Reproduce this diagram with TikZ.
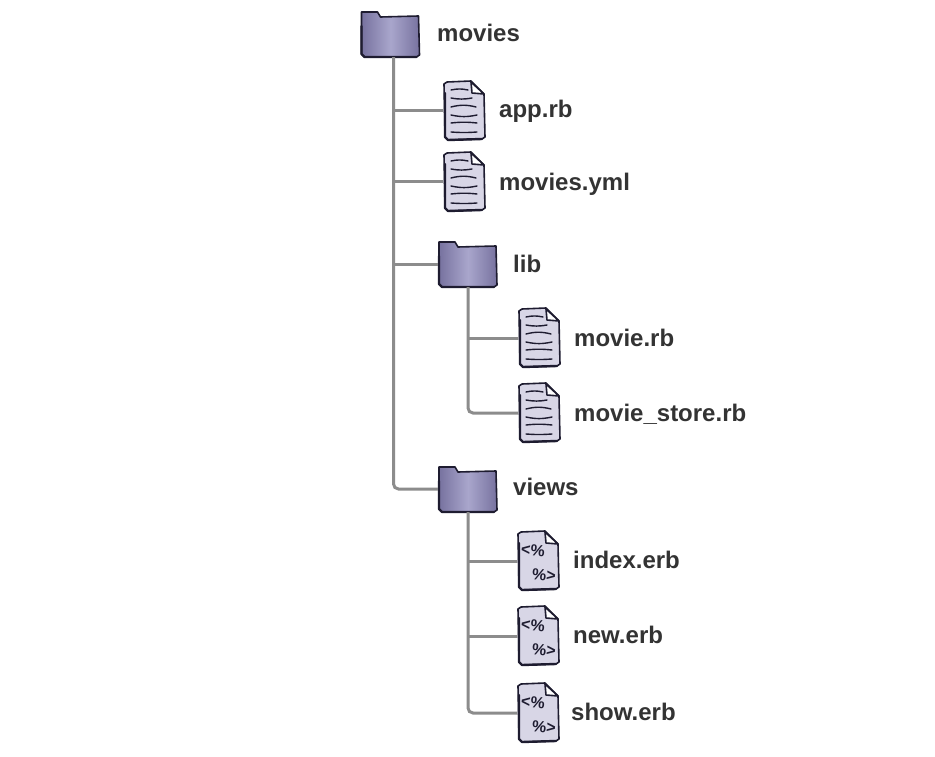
\documentclass[tikz,border=0pt]{standalone}
\usepackage{fontspec}
\setmainfont{Liberation Sans}
\definecolor{ink}{HTML}{1E1C30}
\definecolor{labelink}{HTML}{333333}
\definecolor{linkgrey}{HTML}{8C8C8C}
\definecolor{folderdark}{HTML}{77729F}
\definecolor{folderlight}{HTML}{A9A6CC}
\definecolor{paper}{HTML}{D8D6E6}
\tikzset{
  folderbox/.style={minimum width=60pt,minimum height=46pt,inner sep=0pt},
  filebox/.style={minimum width=42pt,minimum height=60pt,inner sep=0pt},
  namelabel/.style={anchor=base west,inner sep=0pt,text=labelink,font=\fontsize{24}{28}\selectfont\bfseries},
  erbmark/.style={inner sep=0pt,text=ink,font=\fontsize{16}{18}\selectfont\bfseries},
  link/.style={draw=linkgrey,line width=3pt,rounded corners=5pt},
  outline/.style={draw=ink,line width=1.6pt,line join=round,line cap=round},
  heavyedge/.style={draw=ink,line width=2.4pt,line join=round,line cap=round},
}
\newcommand{\foldericon}[2]{
  \node[folderbox] (#1) at (#2) {};
  \begin{scope}[shift={(#1)}]
    \draw[outline,left color=folderdark,right color=folderdark,middle color=folderlight]
      (-29,-22) -- (-13,-22) -- (-10,-17) -- (28,-18) -- (29,21) -- (26,23) -- (-26,23) -- (-29,20) -- cycle;
    \draw[heavyedge] (-29,-8) -- (-29,20) -- (-26,23) -- (26,23);
  \end{scope}
}
\newcommand{\filesheet}[2]{
  \node[filebox] (#1) at (#2) {};
  \begin{scope}[shift={(#1)}]
    \draw[outline,fill=paper]
      (-20,-27) -- (-17,-29) -- (7,-30) -- (20,-17) -- (21,26) -- (18,28) -- (-16,29) -- (-19,26) -- cycle;
    \draw[outline,fill=white] (7,-29) -- (8,-18) -- (20,-17) -- cycle;
    \draw[heavyedge] (-19,-18) -- (-19,26) -- (-16,29) -- (18,28);
  \end{scope}
}
\newcommand{\rbfile}[2]{
  \filesheet{#1}{#2}
  \begin{scope}[shift={(#1)}]
    \foreach \yy/\xa/\xb/\bend in {-21/-13/4/12,-13/-13/8/-10,-4/-13/12/14,4/-13/13/-12,12/-13/13/6,21/-13/13/-4}
      \draw[ink,line width=1.4pt,line cap=round] (\xa,\yy) to[bend left=\bend] (\xb,\yy);
  \end{scope}
}
\newcommand{\erbfile}[2]{
  \filesheet{#1}{#2}
  \node[erbmark,rotate=-6] (#1open) at ([shift={(-5,-11)}]#1) {<\%};
  \node[erbmark,rotate=-6] (#1close) at ([shift={(6,14)}]#1) {\%>};
}
\begin{document}
\begin{tikzpicture}[x=1pt,y=-1pt]
\useasboundingbox (0,0) rectangle (935,757);
\fill[white] (0,0) rectangle (935,757);
% icons
\foldericon{movies}{390.5,34}
\rbfile{app}{464,111}
\rbfile{moviesyml}{464,182}
\foldericon{lib}{468,264}
\rbfile{movierb}{539,338}
\rbfile{moviestore}{539,413}
\foldericon{views}{468,489}
\erbfile{index}{538,561}
\erbfile{new}{538,636}
\erbfile{show}{538,713}
% names
\node[namelabel] (moviesname) at (437,42) {movies};
\node[namelabel] (appname) at (499,118) {app.rb};
\node[namelabel] (moviesymlname) at (499,190) {movies.yml};
\node[namelabel] (libname) at (513,272) {lib};
\node[namelabel] (movierbname) at (574,346) {movie.rb};
\node[namelabel] (moviestorename) at (574,421) {movie\_store.rb};
\node[namelabel] (viewsname) at (513,495) {views};
\node[namelabel] (indexname) at (573,568) {index.erb};
\node[namelabel] (newname) at (573,643) {new.erb};
\node[namelabel] (showname) at (571,720) {show.erb};
% tree lines
\draw[link] ([xshift=3pt]movies.south) |- (views.west);
\draw[link] ([xshift=3pt]movies.south |- app.west) -- (app.west);
\draw[link] ([xshift=3pt]movies.south |- moviesyml.west) -- (moviesyml.west);
\draw[link] ([xshift=3pt]movies.south |- lib.west) -- (lib.west);
\draw[link] (lib.south) |- (moviestore.west);
\draw[link] (lib.south |- movierb.west) -- (movierb.west);
\draw[link] (views.south) |- (show.west);
\draw[link] (views.south |- index.west) -- (index.west);
\draw[link] (views.south |- new.west) -- (new.west);
\end{tikzpicture}
\end{document}
